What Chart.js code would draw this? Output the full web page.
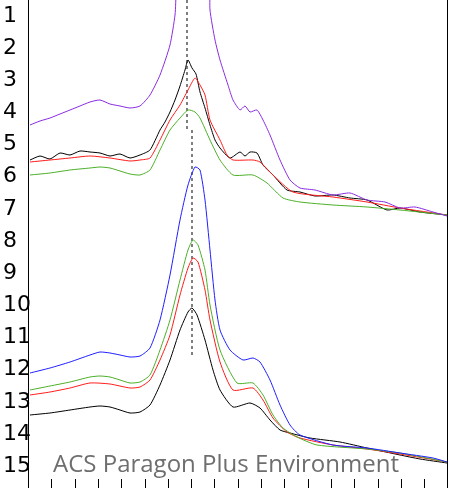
<!DOCTYPE html>
<html><head><meta charset="utf-8">
<script src="https://cdn.jsdelivr.net/npm/chart.js@4/dist/chart.umd.min.js"></script>
<style>html,body{margin:0;padding:0;background:#fff;overflow:hidden}</style>
</head><body><canvas id="c" width="449" height="488"></canvas>
<script>
// line numbers of the manuscript page (left margin)
const lineNumbers = ['1','2','3','4','5','6','7','8','9','10','11','12','13','14','15'];
const xTicks = [28, 51.3, 74.6, 97.9, 121.2, 144.5, 167.8, 191.1, 214.4, 237.7, 261, 284.3, 307.6, 330.9, 354.2, 377.5, 400.8, 424.1, 447.4];

// upper group (depth below top of page)
const purpleX = [30,40,50,60,70,80,90,100,110,120,130,140,150,160,170,175,180,208,210,215,220,228,233,240,245,250,257,263,270,280,290,300,315,333,350,367,385,400,415,433,447];
const purpleY = [125,121,118,114,110,106,102,100,104,106,108,106,95,75,45,15,-40,-40,10,40,60,85,100,110,106,112,110,120,135,160,180,188,190,195,193,200,202,208,207,212,216];
const blackTopX = [30,40,50,60,70,80,90,100,110,120,130,140,150,160,165,170,175,180,185,188,192,196,200,205,210,215,220,230,240,245,250,257,263,273,287,300,315,333,350,367,387,400,420,447];
const blackTopY = [160,156,159,153,155,151,152,153,156,154,158,155,150,130,122,112,100,86,70,60,68,74,92,108,125,140,148,158,152,156,152,153,165,175,190,192,196,195,198,200,210,208,212,215];
const redTopX = [30,50,70,90,110,130,140,150,160,170,180,188,195,200,205,210,220,227,233,253,260,273,293,333,367,400,447];
const redTopY = [162,160,158,156,158,161,160,158,140,120,105,90,78,85,95,120,140,155,160,160,162,175,192,197,202,208,215];
const greenTopX = [30,50,70,90,100,110,120,130,140,150,160,170,180,188,195,200,210,220,233,253,267,283,300,333,367,400,447];
const greenTopY = [175,173,170,168,167,168,171,174,175,170,150,130,118,110,112,118,140,160,175,175,183,198,202,205,207,210,215];

// lower group
const blueX = [30,50,70,90,100,110,120,130,140,150,160,170,180,188,195,200,205,210,215,220,230,243,253,260,270,280,290,300,333,367,400,433,447];
const blueY = [373,368,362,355,352,353,355,357,356,348,320,275,220,185,167,170,200,250,300,330,350,360,358,362,380,405,425,435,445,448,453,458,462];
const greenX = [30,50,70,90,100,110,120,130,140,150,160,170,180,188,193,198,205,210,220,237,253,263,273,283,297,317,367,400,447];
const greenY = [390,386,382,377,376,377,380,383,382,375,350,320,280,250,240,245,270,305,350,383,383,395,415,428,437,445,449,453,462];
const redX = [30,50,70,90,110,130,140,150,160,170,180,188,193,198,205,210,220,233,253,263,273,287,300,333,367,400,447];
const redY = [395,392,388,383,384,388,387,380,360,335,295,268,258,262,290,320,362,390,388,400,418,432,438,445,449,454,462];
const blackX = [30,50,70,90,100,110,120,130,140,150,160,170,180,188,192,197,205,213,220,233,250,260,270,280,290,310,340,367,400,420,447];
const blackY = [415,413,410,407,406,407,410,413,412,405,385,360,330,312,308,315,340,370,390,407,403,408,420,430,433,438,442,448,455,459,463];

const H = 488;
const pts = (xs, ys) => xs.map((x, i) => ({x: x, y: H - ys[i]}));
const line = (xs, ys, color) => ({data: pts(xs, ys), borderColor: color, borderWidth: 1, pointRadius: 0, tension: 0.2, fill: false});

const decor = {
	id: 'decor',
	afterDraw(chart) {
		const ctx = chart.ctx, x = chart.scales.x;
		ctx.save();
		ctx.strokeStyle = '#000'; ctx.lineWidth = 1;
		ctx.beginPath();
		ctx.moveTo(x.getPixelForValue(28) + 0.5, 0); ctx.lineTo(x.getPixelForValue(28) + 0.5, H);
		ctx.moveTo(x.getPixelForValue(447) + 0.5, 0); ctx.lineTo(x.getPixelForValue(447) + 0.5, H);
		xTicks.forEach(t => { const p = Math.round(x.getPixelForValue(t)) + 0.5; ctx.moveTo(p, H); ctx.lineTo(p, H - 9); });
		ctx.stroke();
		ctx.fillStyle = '#000'; ctx.font = '22px "Liberation Sans Narrow", "DejaVu Sans"'; ctx.textBaseline = 'middle';
		lineNumbers.forEach((s, i) => ctx.fillText(s, 3, 16 + i * 32.15));
		ctx.fillStyle = '#6e6e6e'; ctx.font = '24px "Open Sans"'; ctx.textBaseline = 'alphabetic';
		ctx.fillText('ACS Paragon Plus Environment', 53, 472);
		ctx.restore();
	}
};

new Chart(document.getElementById('c'), {
	type: 'line',
	data: {datasets: [
		line(purpleX, purpleY, '#8a2be2'),
		line(greenTopX, greenTopY, '#4caf28'),
		line(redTopX, redTopY, '#ff1a1a'),
		line(blackTopX, blackTopY, '#000'),
		line(blueX, blueY, '#1f1fff'),
		line(greenX, greenY, '#4caf28'),
		line(redX, redY, '#ff1a1a'),
		line(blackX, blackY, '#000'),
		{data: [{x: 187, y: H}, {x: 187, y: H - 130}], borderColor: '#000', borderWidth: 1, borderDash: [3, 3], pointRadius: 0},
		{data: [{x: 192, y: H - 130}, {x: 192, y: H - 355}], borderColor: '#000', borderWidth: 1, borderDash: [3, 3], pointRadius: 0}
	]},
	options: {
		responsive: false, animation: false, maintainAspectRatio: false,
		layout: {padding: 0},
		plugins: {legend: {display: false}, tooltip: {enabled: false}},
		scales: {
			x: {type: 'linear', min: 0, max: 449, display: false},
			y: {min: 0, max: H, display: false}
		}
	},
	plugins: [decor]
});
</script></body></html>
